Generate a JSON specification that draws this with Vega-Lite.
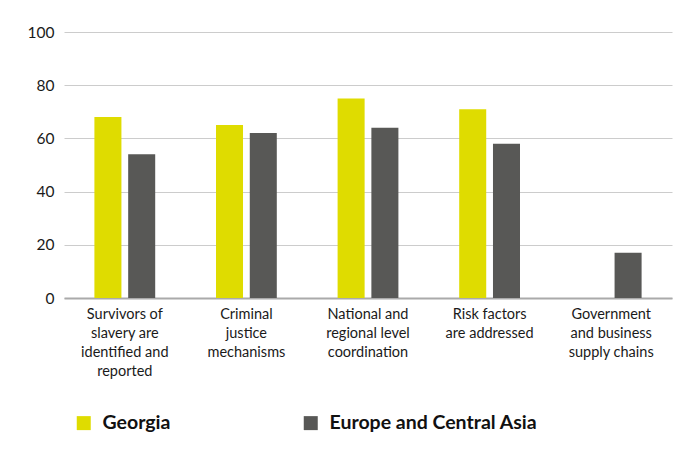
{
  "$schema": "https://vega.github.io/schema/vega-lite/v6.json",
  "width": 608,
  "height": 266,
  "autosize": {"type": "none"},
  "padding": {"left": 64, "top": 32, "right": 21, "bottom": 156},
  "background": "#ffffff",
  "config": {
    "font": "Lato",
    "view": {"stroke": null},
    "axis": {"labelFont": "Lato", "labelColor": "#1a1a1a", "labelFontSize": 14}
  },
  "data": {
    "values": [
      {"area": "Survivors of slavery are identified and reported", "region": "Georgia", "score": 68},
      {"area": "Survivors of slavery are identified and reported", "region": "Europe and Central Asia", "score": 54},
      {"area": "Criminal justice mechanisms", "region": "Georgia", "score": 65},
      {"area": "Criminal justice mechanisms", "region": "Europe and Central Asia", "score": 62},
      {"area": "National and regional level coordination", "region": "Georgia", "score": 75},
      {"area": "National and regional level coordination", "region": "Europe and Central Asia", "score": 64},
      {"area": "Risk factors are addressed", "region": "Georgia", "score": 71},
      {"area": "Risk factors are addressed", "region": "Europe and Central Asia", "score": 58},
      {"area": "Government and business supply chains", "region": "Georgia", "score": 0},
      {"area": "Government and business supply chains", "region": "Europe and Central Asia", "score": 17}
    ]
  },
  "mark": {"type": "bar"},
  "encoding": {
    "x": {
      "field": "area",
      "type": "nominal",
      "sort": null,
      "scale": {"paddingInner": 0.5, "paddingOuter": 0.25},
      "axis": {
        "title": null,
        "labelAngle": 0,
        "ticks": false,
        "domain": true,
        "domainColor": "#aaaaaa",
        "domainWidth": 2,
        "labelPadding": 9,
        "labelLineHeight": 19,
        "labelFontSize": 14.5,
        "labelBaseline": "top",
        "labelLimit": 200,
        "labelExpr": "datum.value == 'Survivors of slavery are identified and reported' ? ['Survivors of', 'slavery are', 'identified and', 'reported'] : datum.value == 'Criminal justice mechanisms' ? ['Criminal', 'justice', 'mechanisms'] : datum.value == 'National and regional level coordination' ? ['National and', 'regional level', 'coordination'] : datum.value == 'Risk factors are addressed' ? ['Risk factors', 'are addressed'] : ['Government', 'and business', 'supply chains']"
      }
    },
    "xOffset": {
      "field": "region",
      "type": "nominal",
      "sort": ["Georgia", "Europe and Central Asia"],
      "scale": {"paddingInner": 0.2, "paddingOuter": 0}
    },
    "y": {
      "field": "score",
      "type": "quantitative",
      "scale": {"domain": [0, 100]},
      "axis": {
        "title": null,
        "values": [0, 20, 40, 60, 80, 100],
        "ticks": false,
        "domain": false,
        "gridColor": "#cccccc",
        "gridWidth": 1,
        "labelPadding": 10,
        "labelFontSize": 15.5
      }
    },
    "color": {
      "field": "region",
      "type": "nominal",
      "sort": ["Georgia", "Europe and Central Asia"],
      "scale": {"domain": ["Georgia", "Europe and Central Asia"], "range": ["#dfdc00", "#585856"]},
      "legend": {
        "title": null,
        "orient": "none",
        "direction": "horizontal",
        "legendX": 10,
        "legendY": 381,
        "symbolType": "square",
        "symbolSize": 196,
        "symbolStrokeWidth": 0,
        "labelFont": "Lato",
        "labelFontSize": 19.5,
        "labelFontWeight": "bold",
        "labelColor": "#111111",
        "labelOffset": 9,
        "columnPadding": 130,
        "labelLimit": 400
      }
    }
  }
}
